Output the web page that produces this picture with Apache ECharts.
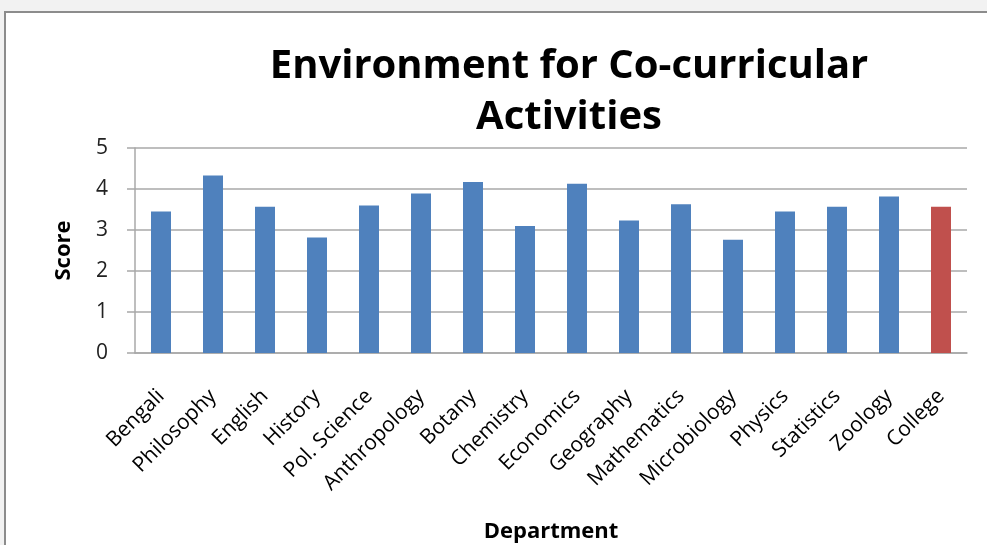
<!DOCTYPE html>
<html>
<head>
<meta charset="utf-8">
<script src="https://cdn.jsdelivr.net/npm/echarts@6/dist/echarts.min.js"></script>
<style>
  html, body { margin: 0; padding: 0; background: #f2f2f2; overflow: hidden; }
  #frame {
    position: absolute; left: 4px; top: 11px; width: 1000px; height: 560px;
    background: #fff; border-left: 2px solid #8c8c8c; border-top: 2px solid #8c8c8c;
  }
  #chart { position: absolute; left: 0; top: 0; width: 987px; height: 545px; }
</style>
</head>
<body>
<div id="frame"></div>
<div id="chart"></div>
<script>
// departments (x axis)
const departments = [
  "Bengali", "Philosophy", "English", "History", "Pol. Science", "Anthropology",
  "Botany", "Chemistry", "Economics", "Geography", "Mathematics", "Microbiology",
  "Physics", "Statistics", "Zoology", "College"
];
// score per department
const scores = [
  3.45, 4.33, 3.57, 2.82, 3.60, 3.89,
  4.17, 3.10, 4.13, 3.23, 3.63, 2.76,
  3.45, 3.57, 3.82, 3.57
];
const highlight = "College";

const chart = echarts.init(document.getElementById("chart"));
const gridColor = "#a8a8a8";
chart.setOption({
  backgroundColor: "transparent",
  animation: false,
  textStyle: { fontFamily: "Open Sans" },
  title: {
    text: "Environment for Co-curricular\nActivities",
    left: 564,
    top: 36,
    textAlign: "center",
    textStyle: {
      fontFamily: "Open Sans",
      fontSize: 40,
      fontWeight: "bold",
      color: "#000",
      lineHeight: 51
    }
  },
  grid: { left: 135, right: 20, top: 148, bottom: 192 },
  xAxis: {
    type: "category",
    data: departments,
    name: "Department",
    nameLocation: "middle",
    nameGap: 168,
    nameTextStyle: { fontSize: 22, fontWeight: "bold", color: "#000" },
    axisLine: { lineStyle: { color: gridColor, width: 1.5 } },
    axisTick: { show: false },
    axisLabel: { rotate: 45, fontSize: 21, color: "#000", margin: 40, interval: 0 }
  },
  yAxis: {
    type: "value",
    min: 0,
    max: 5,
    interval: 1,
    name: "Score",
    nameLocation: "middle",
    nameGap: 60,
    nameTextStyle: { fontSize: 22, fontWeight: "bold", color: "#000" },
    axisLine: { show: true, lineStyle: { color: gridColor, width: 1.5 } },
    axisTick: { show: true, length: 8, lineStyle: { color: gridColor, width: 1.5 } },
    axisLabel: { fontSize: 21, color: "#222", margin: 27 },
    splitLine: { lineStyle: { color: gridColor, width: 1.5 } }
  },
  series: [
    {
      type: "bar",
      barWidth: 20,
      data: scores.map(function (v, i) {
        return {
          value: v,
          itemStyle: { color: departments[i] === highlight ? "#c0504d" : "#4f81bd" }
        };
      })
    }
  ]
});
</script>
</body>
</html>
